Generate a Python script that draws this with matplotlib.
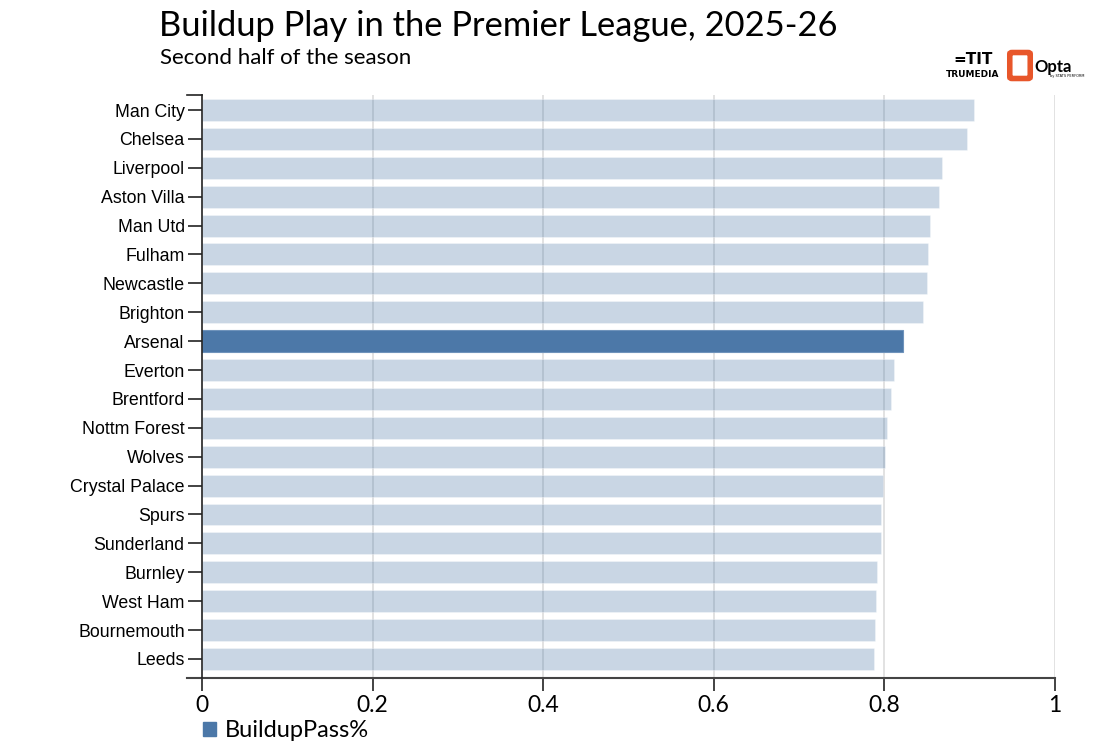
import matplotlib.pyplot as plt
from matplotlib.patches import Rectangle, FancyBboxPatch

# Data
teams = ["Man City", "Chelsea", "Liverpool", "Aston Villa", "Man Utd", "Fulham",
         "Newcastle", "Brighton", "Arsenal", "Everton", "Brentford", "Nottm Forest",
         "Wolves", "Crystal Palace", "Spurs", "Sunderland", "Burnley", "West Ham",
         "Bournemouth", "Leeds"]
buildup_pass = [0.905, 0.897, 0.867, 0.864, 0.854, 0.851, 0.850, 0.845, 0.822, 0.811,
                0.808, 0.803, 0.801, 0.798, 0.796, 0.796, 0.791, 0.790, 0.789, 0.788]
highlight = "Arsenal"
x_ticks = [0, 0.2, 0.4, 0.6, 0.8, 1]

blue = "#4c78a8"
W, H = 1115, 743

fig = plt.figure(figsize=(W / 100, H / 100), dpi=100)
ax = fig.add_axes([202 / W, 1 - 678 / H, (1055 - 202) / W, (678 - 95) / H])

# grid behind the bars
for xv in x_ticks[1:]:
    ax.axvline(xv, color="#dddddd", lw=1.2, zorder=0)

ypos = list(range(len(teams)))
for y, team, v in zip(ypos, teams, buildup_pass):
    if team == highlight:
        ax.barh(y, v, height=0.76, color=blue, edgecolor="#6f93bb", lw=0.8, zorder=2)
    else:
        ax.barh(y, v, height=0.76, color=blue, alpha=0.3, edgecolor="white", lw=0.8, zorder=2)

ax.set_xlim(0, 1)
ax.set_ylim(len(teams) - 1 + 0.66, -0.52)

ax.set_yticks(ypos)
ax.set_yticklabels(teams, family="Liberation Sans", fontsize=12.8)
ax.set_xticks(x_ticks)
ax.set_xticklabels(["0", "0.2", "0.4", "0.6", "0.8", "1"], family="Lato", fontsize=16.5)
ax.tick_params(axis="y", length=10, width=1.2, color="#222222", pad=2.5)
ax.tick_params(axis="x", length=9, width=1.2, color="#222222", pad=3)

for s in ["top", "right"]:
    ax.spines[s].set_visible(False)
ax.spines["left"].set_color("#222222")
ax.spines["left"].set_linewidth(1.2)
ax.spines["bottom"].set_visible(False)

# d3-style domain lines: cap at top of y axis and bottom line extending left
off = -15 / (1055 - 202)
ax.plot([off, 0], [1, 1], transform=ax.transAxes, color="#222222", lw=1.2, clip_on=False)
ax.plot([off, 1], [0, 0], transform=ax.transAxes, color="#444444", lw=1.5, clip_on=False)

# titles
fig.text(159 / W, 1 - 36 / H, "Buildup Play in the Premier League, 2025-26",
         family="Lato", fontsize=24.8, color="black")
fig.text(160 / W, 1 - 64 / H, "Second half of the season",
         family="Lato", fontsize=16, color="black")

# legend
fig.patches.append(Rectangle((203 / W, 1 - 736 / H), 13 / W, 14 / H,
                             transform=fig.transFigure, color=blue))
fig.text(225 / W, 1 - 737 / H, "BuildupPass%", family="Lato", fontsize=17)

# logos (approximate)
fig.text(973 / W, 1 - 77 / H, "TRUMEDIA", family="DejaVu Sans", fontsize=6.5,
         weight="bold", ha="center")
fig.text(973 / W, 1 - 64 / H, "=TIT", family="DejaVu Sans", fontsize=11,
         weight="bold", ha="center")
fig.patches.append(FancyBboxPatch((1012 / W, 1 - 77 / H), 16 / W, 23 / H,
                                  boxstyle="round,pad=0.002", transform=fig.transFigure,
                                  facecolor="none", edgecolor="#e8562a", lw=4))
fig.text(1034 / W, 1 - 72 / H, "Opta", family="Lato", fontsize=12, weight="bold")
fig.text(1050 / W, 1 - 77 / H, "by STATS PERFORM", family="DejaVu Sans", fontsize=2.5)

fig.savefig("out.png", dpi=100)
